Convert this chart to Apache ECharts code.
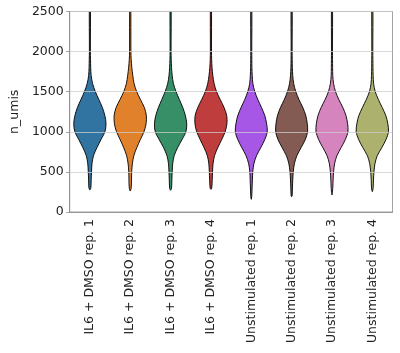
<!DOCTYPE html>
<html>
<head>
<meta charset="utf-8">
<script src="https://cdn.jsdelivr.net/npm/echarts@6/dist/echarts.min.js"></script>
<style>html,body{margin:0;padding:0;background:#fff}#c{width:400px;height:353px}</style>
</head>
<body>
<div id="c"></div>
<script>
var categories = ['IL6 + DMSO rep. 1','IL6 + DMSO rep. 2','IL6 + DMSO rep. 3','IL6 + DMSO rep. 4','Unstimulated rep. 1','Unstimulated rep. 2','Unstimulated rep. 3','Unstimulated rep. 4'];
var colors = ['#3274a1','#e1812c','#368f67','#c03d3e','#a757e5','#845b53','#d584bd','#acb26e'];
var yTicks = [0, 500, 1000, 1500, 2000, 2500];
// lowest observed value of each sample (violin tip)
var tipValues = [275, 262, 271, 283, 158, 192, 212, 254];
// value levels at which the (width-scaled) density is read
var levels = [200, 300, 400, 500, 600, 700, 800, 900, 1000, 1100, 1200, 1300, 1400, 1500, 1600, 1700, 1800, 1900, 2000, 2600];
// relative densities (1 = widest point of each violin)
var dens1 = [null, 0.06, 0.08, 0.10, 0.13, 0.22, 0.43, 0.68, 0.93, 1.00, 0.93, 0.78, 0.56, 0.34, 0.17, 0.08, 0.05, 0.04, 0.03, 0.03];
var dens2 = [null, 0.06, 0.08, 0.09, 0.13, 0.22, 0.40, 0.62, 0.85, 0.98, 1.00, 0.88, 0.64, 0.40, 0.24, 0.16, 0.10, 0.06, 0.04, 0.03];
var dens3 = [null, 0.06, 0.08, 0.10, 0.13, 0.22, 0.43, 0.70, 0.95, 1.00, 0.92, 0.76, 0.55, 0.34, 0.18, 0.10, 0.06, 0.04, 0.03, 0.03];
var dens4 = [null, 0.05, 0.08, 0.10, 0.13, 0.22, 0.42, 0.66, 0.88, 0.99, 0.98, 0.82, 0.58, 0.35, 0.20, 0.12, 0.07, 0.045, 0.035, 0.03];
var dens5 = [0.03, 0.05, 0.07, 0.09, 0.16, 0.32, 0.58, 0.83, 0.99, 0.95, 0.84, 0.64, 0.41, 0.22, 0.10, 0.06, 0.04, 0.035, 0.03, 0.03];
var dens6 = [0.03, 0.05, 0.07, 0.10, 0.17, 0.32, 0.58, 0.84, 0.99, 0.97, 0.88, 0.70, 0.46, 0.26, 0.13, 0.07, 0.045, 0.035, 0.03, 0.03];
var dens7 = [null, 0.05, 0.07, 0.10, 0.16, 0.30, 0.56, 0.82, 0.99, 0.97, 0.87, 0.68, 0.43, 0.22, 0.10, 0.05, 0.04, 0.035, 0.03, 0.03];
var dens8 = [null, 0.05, 0.07, 0.10, 0.16, 0.30, 0.58, 0.84, 1.00, 0.96, 0.84, 0.62, 0.38, 0.18, 0.08, 0.05, 0.04, 0.035, 0.03, 0.03];
var densities = [dens1, dens2, dens3, dens4, dens5, dens6, dens7, dens8];

var chart = echarts.init(document.getElementById('c'), null, {renderer: 'canvas'});
var FONT = 'DejaVu Sans';
var option = {
  animation: false,
  grid: {left: 61, right: 7.5, top: 11.5, bottom: 141, show: true, borderColor: '#8a8a8a', borderWidth: 0.8, backgroundColor: 'transparent'},
  xAxis: {
    type: 'category', data: categories, z: 4,
    axisLine: {lineStyle: {color: '#8a8a8a', width: 0.8}},
    axisTick: {alignWithLabel: true, length: 3.5, lineStyle: {color: '#8a8a8a', width: 0.8}},
    axisLabel: {rotate: 90, margin: 7, fontFamily: FONT, fontSize: 12.5, color: '#222', interval: 0},
    splitLine: {show: false}
  },
  yAxis: {
    type: 'value', min: 0, max: 2500, interval: 500, z: 3,
    name: 'n_umis', nameLocation: 'middle', nameGap: 38,
    nameTextStyle: {fontFamily: FONT, fontSize: 12.5, color: '#222'},
    axisLine: {show: true, lineStyle: {color: '#8a8a8a', width: 0.8}},
    axisTick: {show: true, length: 3.5, lineStyle: {color: '#8a8a8a', width: 0.8}},
    axisLabel: {margin: 6, fontFamily: FONT, fontSize: 12.5, color: '#222',
      formatter: function (v) { return yTicks.indexOf(v) >= 0 ? String(v) : ''; }},
    splitLine: {show: true, lineStyle: {color: 'rgba(205,205,205,0.75)', width: 1}}
  },
  series: [{
    type: 'custom', clip: true, z: 2,
    data: categories.map(function (c, i) { return [i]; }),
    renderItem: function (params, api) {
      var idx = api.value(0);
      var band = api.size([1, 0])[0];
      var maxHalf = band * 0.4;
      var d = densities[idx];
      var tip = tipValues[idx];
      var left = [api.coord([idx, tip])], right = [];
      for (var i = 0; i < levels.length; i++) {
        if (d[i] == null || levels[i] <= tip) continue;
        var p = api.coord([idx, levels[i]]);
        var w = d[i] * maxHalf;
        left.push([p[0] - w, p[1]]);
        right.unshift([p[0] + w, p[1]]);
      }
      return {
        type: 'polygon',
        shape: {points: left.concat(right), smooth: 0.3},
        style: {fill: colors[idx], stroke: '#000', lineWidth: 0.9}
      };
    }
  }]
};
chart.setOption(option);
</script>
</body>
</html>
